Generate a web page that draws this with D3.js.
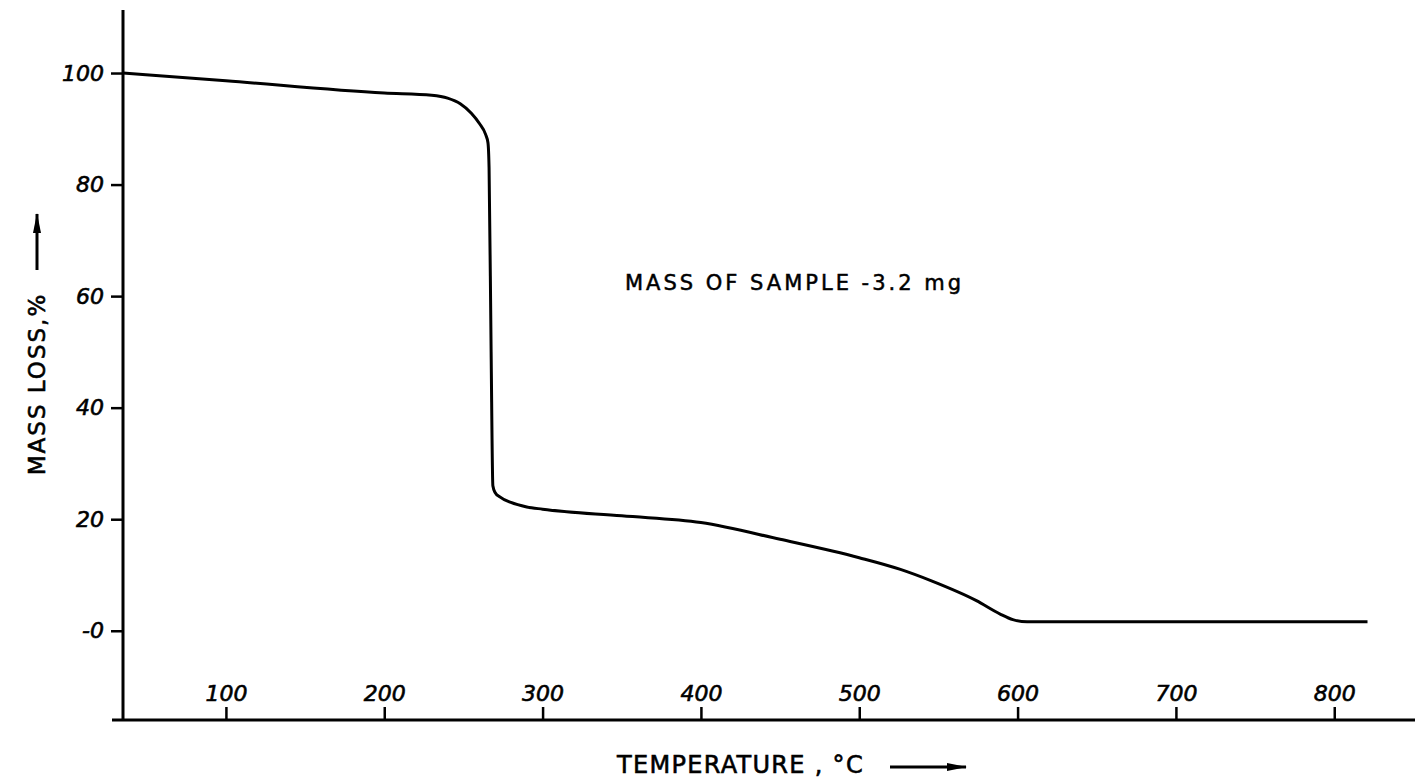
<!DOCTYPE html>
<html>
<head>
<meta charset="utf-8">
<script src="https://cdn.jsdelivr.net/npm/d3@7"></script>
<style>
  body { margin: 0; background: #fff; }
  svg { display: block; }
</style>
</head>
<body>
<svg id="tga"></svg>
<script>
var width = 1416, height = 783;

// readings from the trace: temperature (°C) and mass (%)
var temps = [35, 100, 200, 230, 240, 248, 255, 260, 264, 265.5, 266.2, 267.5, 268.6, 270, 273, 280, 290, 300, 350, 400, 450, 500, 526, 546, 574, 589, 597, 606, 650, 750, 821];
var masses = [100, 98.6, 96.4, 96, 95.5, 94.5, 92.8, 91, 89, 87.5, 83, 50, 26, 24.8, 24, 23, 22.2, 21.8, 20.6, 19.4, 16.4, 13.1, 11, 8.9, 5.4, 3, 2, 1.6, 1.6, 1.6, 1.6];

var xTicks = [100, 200, 300, 400, 500, 600, 700, 800];
var yTicks = [0, 20, 40, 60, 80, 100];

var x = d3.scaleLinear().domain([35, 851]).range([123, 1415]);
var y = d3.scaleLinear().domain([-16, 111.3]).range([720, 10]);

var svg = d3.select("#tga").attr("width", width).attr("height", height);

var data = temps.map(function (t, i) {
  return { t: t, m: masses[i] };
});

// y axis
var yAxis = svg
  .append("g")
  .attr("transform", "translate(" + x(35) + ",0)")
  .call(
    d3.axisLeft(y)
      .tickValues(yTicks)
      .tickSize(12)
      .tickPadding(7)
      .tickFormat(function (d) {
        return d === 0 ? "-0" : d;
      })
  );
yAxis.select(".domain").remove();
yAxis.selectAll("line").attr("stroke", "#000").attr("stroke-width", 2.5);
yAxis
  .selectAll("text")
  .attr("font-family", "DejaVu Sans, sans-serif")
  .attr("font-style", "italic")
  .attr("font-size", "22px")
  .attr("stroke", "#000")
  .attr("stroke-width", 0.6)
  .attr("fill", "#000");

svg
  .append("line")
  .attr("x1", x(35))
  .attr("x2", x(35))
  .attr("y1", y(111.3))
  .attr("y2", y(-16))
  .attr("stroke", "#000")
  .attr("stroke-width", 3);

// x axis
var xAxis = svg
  .append("g")
  .attr("transform", "translate(0," + y(-16) + ")")
  .call(d3.axisTop(x).tickValues(xTicks).tickSize(13).tickPadding(6));
xAxis.select(".domain").remove();
xAxis.selectAll("line").attr("stroke", "#000").attr("stroke-width", 2.5);
xAxis
  .selectAll("text")
  .attr("font-family", "DejaVu Sans, sans-serif")
  .attr("font-style", "italic")
  .attr("font-size", "22px")
  .attr("stroke", "#000")
  .attr("stroke-width", 0.6)
  .attr("fill", "#000");

svg
  .append("line")
  .attr("x1", 112)
  .attr("x2", x(851))
  .attr("y1", y(-16))
  .attr("y2", y(-16))
  .attr("stroke", "#000")
  .attr("stroke-width", 3);

// trace
var line = d3
  .line()
  .x(function (d) { return x(d.t); })
  .y(function (d) { return y(d.m); })
  .curve(d3.curveMonotoneX);

svg
  .append("path")
  .datum(data)
  .attr("d", line)
  .attr("fill", "none")
  .attr("stroke", "#000")
  .attr("stroke-width", 3)
  .attr("stroke-linejoin", "round");

// arrow marker
svg
  .append("defs")
  .append("marker")
  .attr("id", "arrow")
  .attr("viewBox", "0 0 20 10")
  .attr("refX", 19)
  .attr("refY", 5)
  .attr("markerWidth", 20)
  .attr("markerHeight", 10)
  .attr("orient", "auto")
  .attr("markerUnits", "userSpaceOnUse")
  .append("path")
  .attr("d", "M0,1 L20,5 L0,9 Z")
  .attr("fill", "#000");

// y label
svg
  .append("text")
  .attr("transform", "translate(45,384) rotate(-90)")
  .attr("text-anchor", "middle")
  .attr("font-family", "DejaVu Sans, sans-serif")
  .attr("font-size", "23px")
  .attr("letter-spacing", "2px")
  .attr("stroke", "#000")
  .attr("stroke-width", 0.6)
  .attr("fill", "#000")
  .text("MASS LOSS,%");

svg
  .append("line")
  .attr("x1", 37)
  .attr("x2", 37)
  .attr("y1", 270)
  .attr("y2", 214)
  .attr("stroke", "#000")
  .attr("stroke-width", 3)
  .attr("marker-end", "url(#arrow)");

// x label
svg
  .append("text")
  .attr("x", 617)
  .attr("y", 773)
  .attr("font-family", "DejaVu Sans, sans-serif")
  .attr("font-size", "24px")
  .attr("letter-spacing", "1.3px")
  .attr("stroke", "#000")
  .attr("stroke-width", 0.6)
  .attr("fill", "#000")
  .text("TEMPERATURE , °C");

svg
  .append("line")
  .attr("x1", 890)
  .attr("x2", 966)
  .attr("y1", 767)
  .attr("y2", 767)
  .attr("stroke", "#000")
  .attr("stroke-width", 3)
  .attr("marker-end", "url(#arrow)");

// annotation
svg
  .append("text")
  .attr("x", 625)
  .attr("y", 290)
  .attr("font-family", "DejaVu Sans, sans-serif")
  .attr("font-size", "21px")
  .attr("letter-spacing", "3px")
  .attr("stroke", "#000")
  .attr("stroke-width", 0.5)
  .attr("fill", "#000")
  .text("MASS OF SAMPLE -3.2 mg");
</script>
</body>
</html>
